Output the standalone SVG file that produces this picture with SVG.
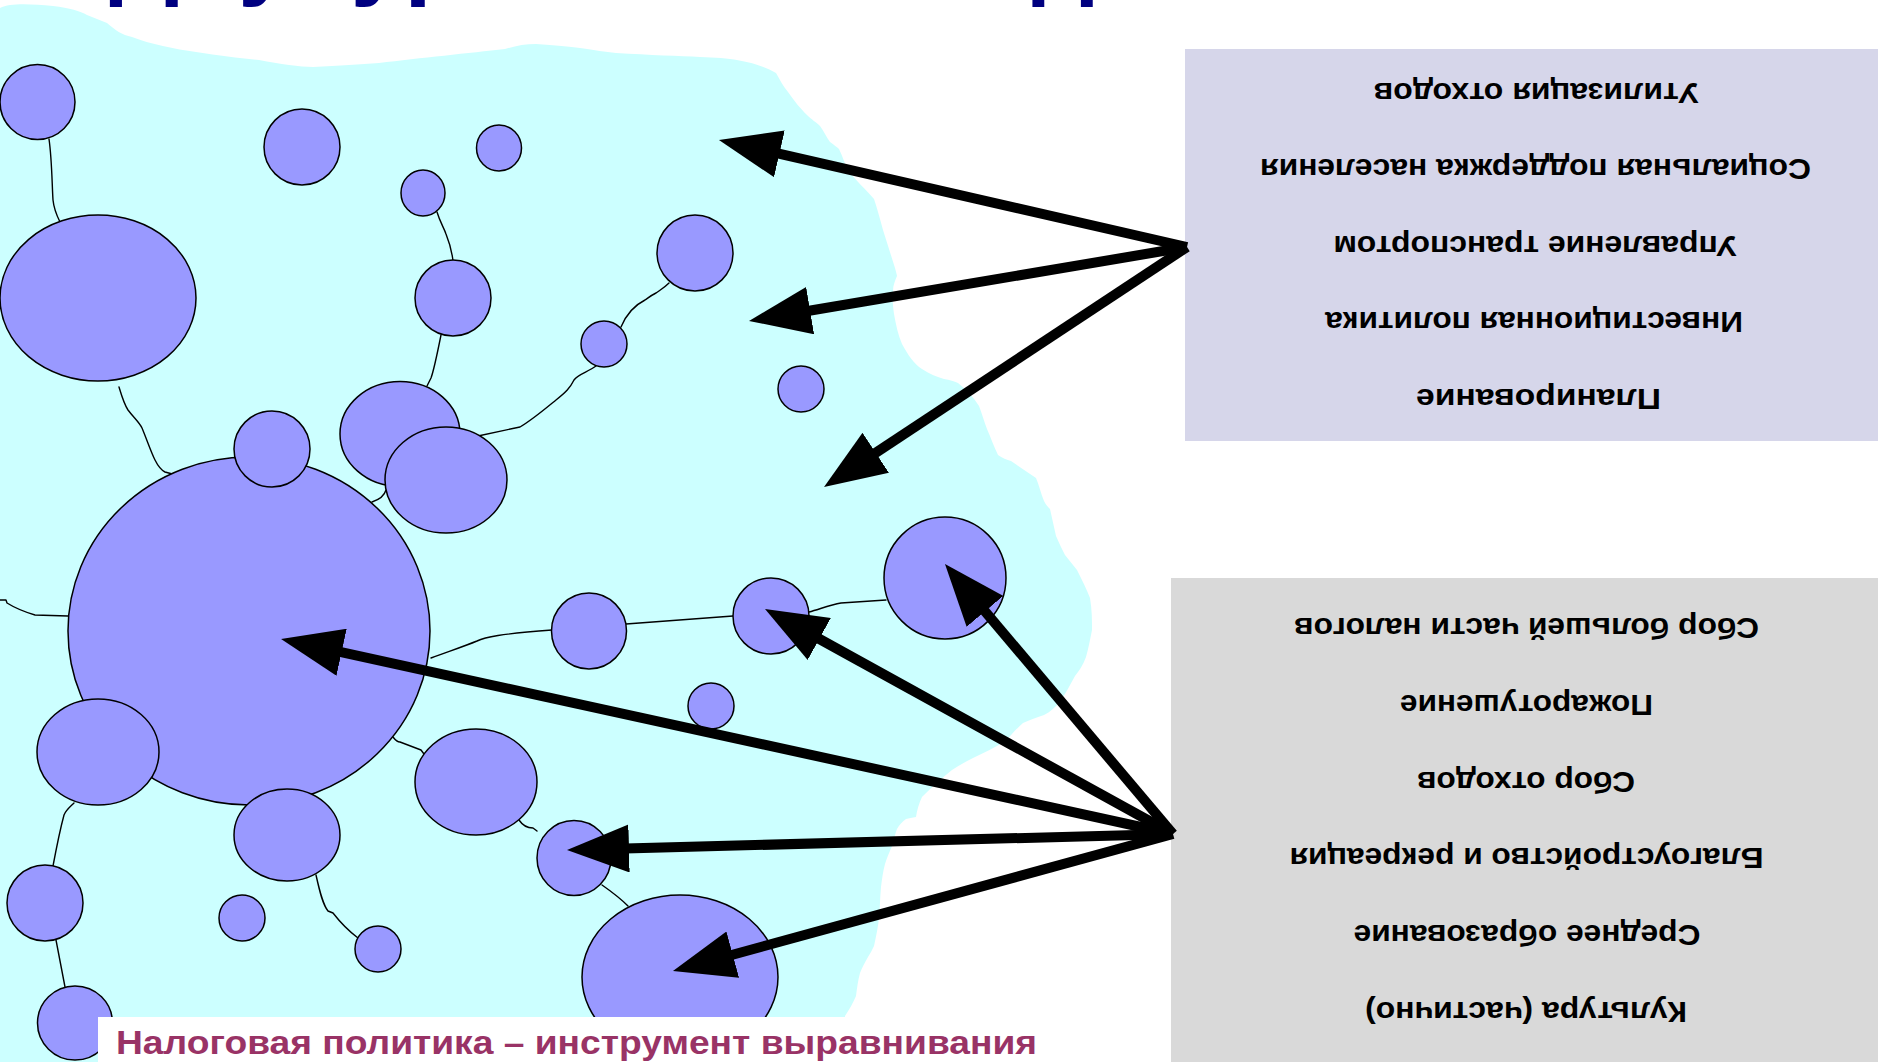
<svg xmlns="http://www.w3.org/2000/svg" width="1878" height="1062" viewBox="0 0 1878 1062">
<defs>
<style>
.n{fill:#9999FF;stroke:#000;stroke-width:1.5}
.w{fill:none;stroke:#000;stroke-width:1.4;stroke-linecap:round;stroke-linejoin:round}
.a{fill:none;stroke:#000;stroke-width:10;marker-end:url(#ah)}
.bt{font-family:"Liberation Sans",Arial,sans-serif;font-weight:bold;font-size:30px;fill:#000;text-anchor:middle}
</style>
<marker id="ah" markerUnits="userSpaceOnUse" viewBox="0 -24 62 48" refX="4" refY="0" markerWidth="62" markerHeight="48" orient="auto">
<path d="M0,-24 L62,0 L0,24 Z" fill="#000"/>
</marker>
</defs>
<rect width="1878" height="1062" fill="#fff"/>
<text x="109" y="-13" font-family="Liberation Sans, Arial, sans-serif" font-weight="bold" font-size="99" fill="#000080">Двухуровневая модель</text>
<path id="region" fill="#CCFFFF" d="M0,8 C10,3 30,4 53,6 C70,8 80,11 87,15 L107,23 C115,30 122,35 132,37 C150,44 175,49 196,52 C220,56 240,58 259,60 C280,64 300,67 313,67 C340,66 360,64 379,63 C420,58 470,53 505,49 C515,46 525,44 536,44 C555,45 570,47 580,48 C595,50 605,52 616,53 C650,55 680,56 700,57 C740,58 760,64 776,73 C780,80 783,86 788,92 C795,102 800,108 807,115 C812,120 816,122 820,126 C824,131 826,137 830,142 C834,145 837,147 839,149 C843,157 845,165 849,172 C856,180 866,190 874,199 C877,208 880,219 883,230 L895,268 C896,272 897,275 897,276 C895,281 893,285 893,291 C892,299 893,306 894,314 C896,325 898,335 902,344 C908,355 914,364 922,369 C930,374 937,377 944,379 C950,380 954,381 958,383 C967,390 974,398 979,406 C982,414 984,421 987,429 C991,438 994,447 998,455 C1002,458 1007,460 1011,461 L1036,478 C1039,485 1041,494 1044,501 C1046,505 1048,507 1050,509 C1052,518 1054,527 1056,536 C1059,543 1062,549 1065,555 C1069,560 1073,565 1077,570 C1082,580 1087,590 1090,598 C1092,610 1092,620 1092,630 C1090,640 1088,650 1086,657 C1083,665 1079,671 1075,676 C1070,685 1066,693 1061,700 C1056,707 1050,712 1044,715 C1036,718 1029,720 1023,723 C1017,728 1011,735 1006,741 C995,747 984,753 973,758 C965,762 958,766 952,770 C942,778 931,788 922,797 C919,803 917,810 916,817 C912,818 909,818 906,819 C902,822 899,825 897,829 C895,834 894,839 893,844 C890,851 887,857 885,864 C883,871 882,879 881,887 C880,897 880,908 879,918 C878,927 876,937 874,946 C872,950 870,954 868,957 C865,962 862,968 860,973 C858,980 857,988 856,996 C853,1003 849,1010 845,1016 L845,1062 L0,1062 Z"/>
<g id="links">
<path class="w" d="M49,139 C52,160 52,185 53,200 C54,210 57,216 60,222"/>
<path class="w" d="M437,212 C440,222 444,228 446,234 C450,244 452,252 453,261"/>
<path class="w" d="M441,335 C437,355 434,370 431,378 L427,386"/>
<path class="w" d="M596,366 C588,372 578,374 574,380 C570,388 566,392 556,400 C545,409 532,420 520,427 L478,436"/>
<path class="w" d="M669,283 C664,288 660,290 656,293 C650,296 648,298 645,300 C635,305 626,315 621,327"/>
<path class="w" d="M119,387 C122,397 124,404 128,410 C134,418 139,422 142,428 C147,440 151,452 155,460 C158,466 161,470 165,472 L176,475"/>
<path class="w" d="M386,490 C384,497 378,500 372,502"/>
<path class="w" d="M0,600 L6,600 L7,603 C15,608 25,612 35,615 L68,616"/>
<path class="w" d="M431,658 C450,651 465,646 477,641 C485,637 500,634 552,630"/>
<path class="w" d="M626,624 L733,616"/>
<path class="w" d="M809,612 C820,609 830,605 841,603 L886,600"/>
<path class="w" d="M393,737 C396,741 398,742 400,742 L421,750 L424,754"/>
<path class="w" d="M519,820 C523,826 527,828 533,828 L537,831"/>
<path class="w" d="M602,885 C612,892 619,897 628,906"/>
<path class="w" d="M316,875 C320,893 323,905 328,911 L333,913 C340,922 350,932 358,938"/>
<path class="w" d="M74,803 C70,807 66,810 64,815 C60,830 56,850 53,866"/>
<path class="w" d="M56,940 L65,987"/>
</g>
<g id="n1"><ellipse class="n" cx="37.5" cy="102" rx="37.5" ry="37.5"/></g>
<g id="n2"><ellipse class="n" cx="302" cy="147" rx="38" ry="38"/></g>
<g id="n3"><ellipse class="n" cx="499" cy="148" rx="22.5" ry="23"/></g>
<g id="n4"><ellipse class="n" cx="423" cy="193" rx="22" ry="23"/></g>
<g id="n5"><ellipse class="n" cx="98" cy="298" rx="98" ry="83"/></g>
<g id="n6"><ellipse class="n" cx="453" cy="298" rx="38" ry="38"/></g>
<g id="n7"><ellipse class="n" cx="695" cy="253" rx="38" ry="38"/></g>
<g id="n8"><ellipse class="n" cx="604" cy="344" rx="23" ry="23"/></g>
<g id="n9"><ellipse class="n" cx="801" cy="389" rx="23" ry="23"/></g>
<g id="n10"><ellipse class="n" cx="400" cy="434" rx="60" ry="52.5"/></g>
<g id="n11"><ellipse class="n" cx="446" cy="480" rx="61" ry="53"/></g>
<g id="n13"><ellipse class="n" cx="249" cy="631" rx="181" ry="174"/></g>
<g id="n12"><ellipse class="n" cx="272" cy="449" rx="38" ry="38"/></g>
<g id="n14"><ellipse class="n" cx="98" cy="752" rx="61" ry="53"/></g>
<g id="n15"><ellipse class="n" cx="287" cy="835" rx="53" ry="46"/></g>
<g id="n16"><ellipse class="n" cx="476" cy="782" rx="61" ry="53"/></g>
<g id="n17"><ellipse class="n" cx="589" cy="631" rx="37.5" ry="38"/></g>
<g id="n18"><ellipse class="n" cx="771" cy="616" rx="38" ry="38"/></g>
<g id="n19"><ellipse class="n" cx="945" cy="578" rx="61" ry="61"/></g>
<g id="n20"><ellipse class="n" cx="711" cy="706" rx="23" ry="23"/></g>
<g id="n21"><ellipse class="n" cx="574" cy="858" rx="37" ry="37.5"/></g>
<g id="n22"><ellipse class="n" cx="680" cy="977" rx="98" ry="82"/></g>
<g id="n23"><ellipse class="n" cx="45" cy="903" rx="38" ry="38"/></g>
<g id="n24"><ellipse class="n" cx="242" cy="918" rx="23" ry="23"/></g>
<g id="n25"><ellipse class="n" cx="378" cy="949" rx="23" ry="23"/></g>
<g id="n26"><ellipse class="n" cx="75" cy="1023" rx="37.5" ry="37"/></g>
<g id="caption">
<rect x="98" y="1017" width="942" height="45" fill="#fff"/>
<text x="116" y="1054" font-family="Liberation Sans, Arial, sans-serif" font-weight="bold" font-size="33" fill="#993366" textLength="921" lengthAdjust="spacingAndGlyphs">Налоговая политика – инструмент выравнивания</text>
</g>
<g id="box-top">
<rect x="1185" y="49" width="693" height="392" fill="#D6D6EA"/>
<text class="bt" transform="translate(1536,82.5) rotate(180)" textLength="325" lengthAdjust="spacingAndGlyphs">Утилизация отходов</text>
<text class="bt" transform="translate(1535.5,159) rotate(180)" textLength="551" lengthAdjust="spacingAndGlyphs">Социальная поддержка населения</text>
<text class="bt" transform="translate(1535,235.5) rotate(180)" textLength="403" lengthAdjust="spacingAndGlyphs">Управление транспортом</text>
<text class="bt" transform="translate(1534,312) rotate(180)" textLength="418" lengthAdjust="spacingAndGlyphs">Инвестиционная политика</text>
<text class="bt" transform="translate(1538.5,388.5) rotate(180)" textLength="245" lengthAdjust="spacingAndGlyphs">Планирование</text>
</g>
<g id="box-bottom">
<rect x="1171" y="578" width="707" height="484" fill="#D9D9D9"/>
<text class="bt" transform="translate(1526.5,618) rotate(180)" textLength="465" lengthAdjust="spacingAndGlyphs">Сбор большей части налогов</text>
<text class="bt" transform="translate(1526.5,695) rotate(180)" textLength="253" lengthAdjust="spacingAndGlyphs">Пожаротушение</text>
<text class="bt" transform="translate(1526,771.5) rotate(180)" textLength="218" lengthAdjust="spacingAndGlyphs">Сбор отходов</text>
<text class="bt" transform="translate(1526.5,848) rotate(180)" textLength="474" lengthAdjust="spacingAndGlyphs">Благоустройство и рекреация</text>
<text class="bt" transform="translate(1527,924.5) rotate(180)" textLength="347" lengthAdjust="spacingAndGlyphs">Среднее образование</text>
<text class="bt" transform="translate(1526,1001.5) rotate(180)" textLength="322" lengthAdjust="spacingAndGlyphs">Культура (частично)</text>
</g>
<g id="connectors">
<path class="a" d="M1187,247 L775.5,152.9"/>
<path class="a" d="M1187,247 L806.2,311.3"/>
<path class="a" d="M1187,247 L872.4,455"/>
<path class="a" d="M1173,834 L337.7,651.4"/>
<path class="a" d="M1173,834 L815.8,637"/>
<path class="a" d="M1173,834 L982.4,608.3"/>
<path class="a" d="M1173,834 L625,848.5"/>
<path class="a" d="M1173,834 L728.9,955.7"/>
</g>
</svg>
